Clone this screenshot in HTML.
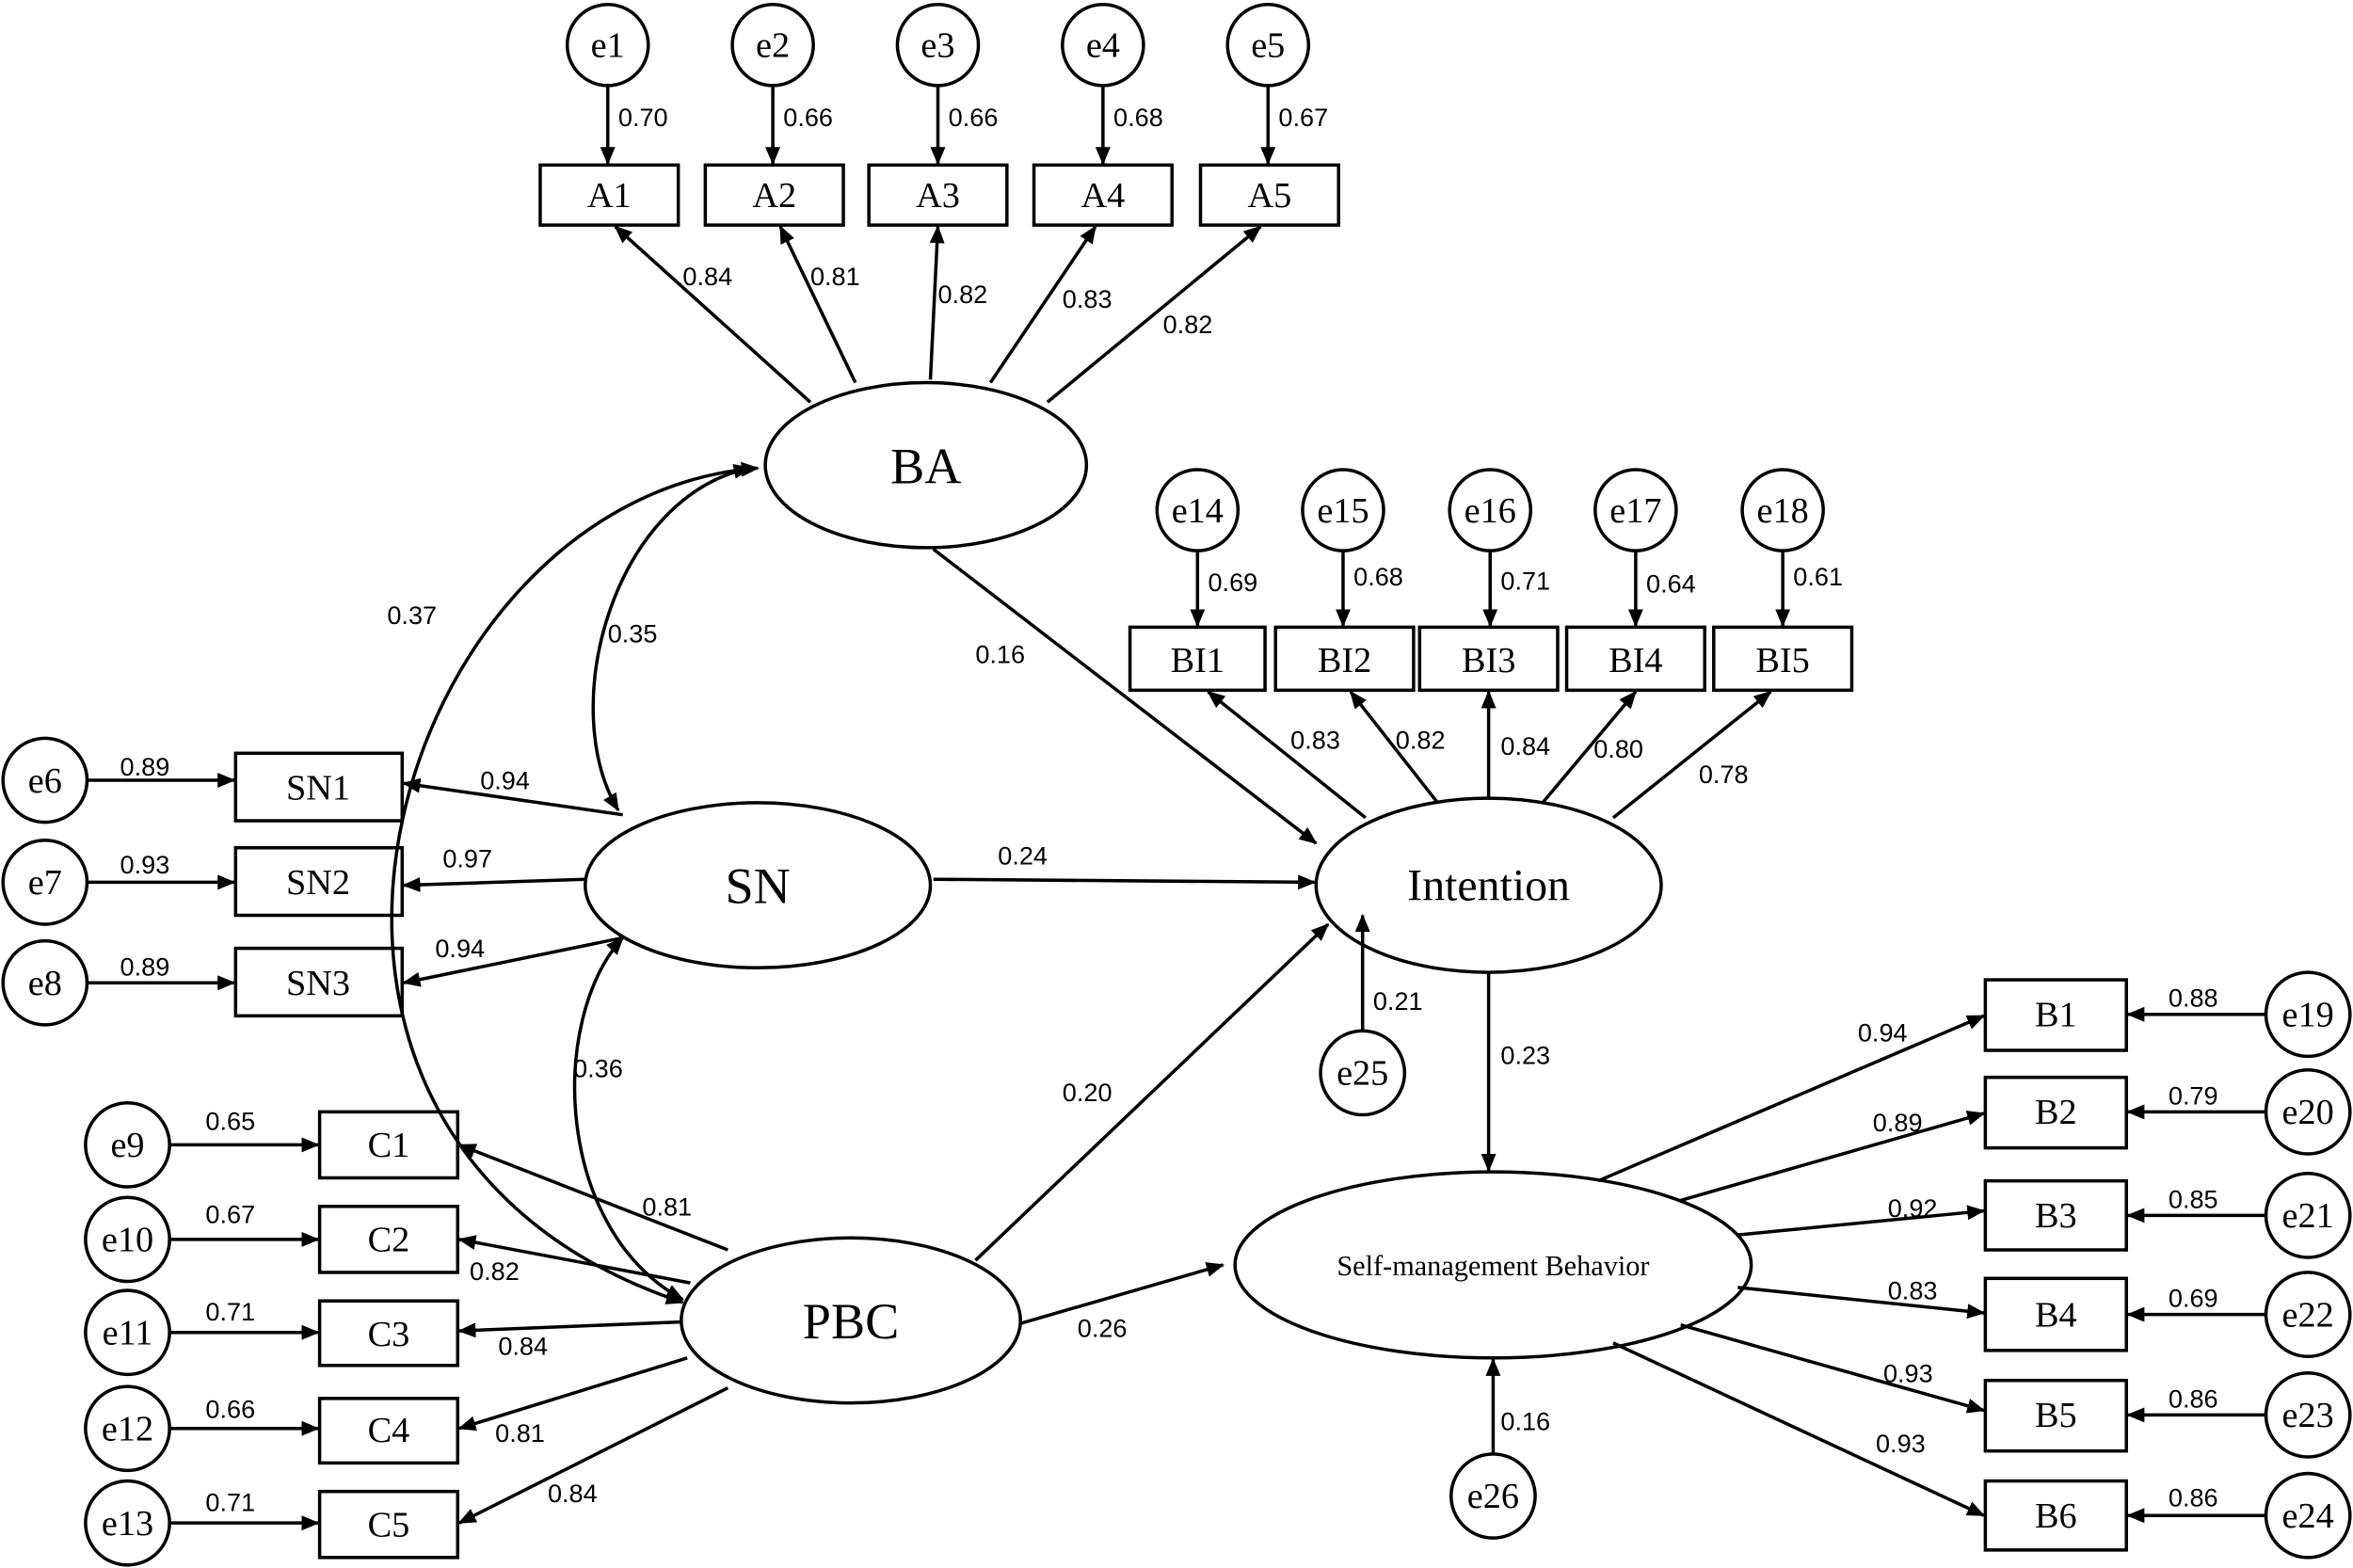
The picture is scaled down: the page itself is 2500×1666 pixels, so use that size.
<!DOCTYPE html>
<html><head><meta charset="utf-8"><style>
html,body{margin:0;padding:0;background:#fff}
svg{display:block}
.n{font-family:"Liberation Serif",serif;fill:#000}
.l{font-family:"Liberation Sans",sans-serif;font-size:17px;fill:#000}
</style></head><body>
<svg width="2500" height="1666" viewBox="0 0 1568 1045" preserveAspectRatio="none" xmlns="http://www.w3.org/2000/svg">
<defs>
<marker id="a" viewBox="0 0 12 10" refX="11" refY="5" markerWidth="12" markerHeight="10" markerUnits="userSpaceOnUse" orient="auto-start-reverse">
<path d="M0,0 L12,5 L0,10 z" fill="#000"/></marker>
</defs>
<g stroke="#000" stroke-width="2.2" fill="none">
<g fill="#fff">
<circle cx="405" cy="30" r="27"/><circle cx="515" cy="30" r="27"/><circle cx="625" cy="30" r="27"/><circle cx="735" cy="30" r="27"/><circle cx="845" cy="30" r="27"/>
<rect x="360" y="110" width="92" height="40"/><rect x="470" y="110" width="92" height="40"/><rect x="579" y="110" width="92" height="40"/><rect x="689" y="110" width="92" height="40"/><rect x="800" y="110" width="92" height="40"/>
<circle cx="798" cy="340" r="27"/><circle cx="895" cy="340" r="27"/><circle cx="993" cy="340" r="27"/><circle cx="1090" cy="340" r="27"/><circle cx="1188" cy="340" r="27"/>
<rect x="753" y="418" width="90" height="42"/><rect x="850" y="418" width="92" height="42"/><rect x="946" y="418" width="92" height="42"/><rect x="1044" y="418" width="92" height="42"/><rect x="1142" y="418" width="92" height="42"/>
<rect x="157" y="502" width="111" height="45"/><rect x="157" y="565" width="111" height="45"/><rect x="157" y="632" width="111" height="45"/>
<circle cx="30" cy="520" r="28"/><circle cx="30" cy="588" r="28"/><circle cx="30" cy="655" r="28"/>
<rect x="213" y="741" width="92" height="44"/><rect x="213" y="804" width="92" height="44"/><rect x="213" y="867" width="92" height="43"/><rect x="213" y="932" width="92" height="43"/><rect x="213" y="994" width="92" height="44"/>
<circle cx="85" cy="763" r="28"/><circle cx="85" cy="826" r="28"/><circle cx="85" cy="888" r="28"/><circle cx="85" cy="952" r="28"/><circle cx="85" cy="1015" r="28"/>
<rect x="1323" y="653" width="94" height="47"/><rect x="1323" y="718" width="94" height="47"/><rect x="1323" y="787" width="94" height="46"/><rect x="1323" y="852" width="94" height="48"/><rect x="1323" y="920" width="94" height="47"/><rect x="1323" y="987" width="94" height="46"/>
<circle cx="1538" cy="676" r="28"/><circle cx="1538" cy="741" r="28"/><circle cx="1538" cy="810" r="28"/><circle cx="1538" cy="876" r="28"/><circle cx="1538" cy="943" r="28"/><circle cx="1538" cy="1010" r="28"/>
<circle cx="908" cy="715" r="28"/><circle cx="995" cy="997" r="28"/>
<ellipse cx="617" cy="310" rx="107" ry="55"/>
<ellipse cx="992" cy="590" rx="115" ry="58"/>
<ellipse cx="505" cy="590" rx="115" ry="55"/>
<ellipse cx="567" cy="880" rx="113" ry="55"/>
<ellipse cx="995" cy="843" rx="172" ry="62"/>
</g>
<path d="M505,312 C260,330 130,760 455,868" marker-start="url(#a)" marker-end="url(#a)"/>
<g marker-end="url(#a)">
<line x1="405" y1="57" x2="405" y2="109"/><line x1="515" y1="57" x2="515" y2="109"/><line x1="625" y1="57" x2="625" y2="109"/><line x1="735" y1="57" x2="735" y2="109"/><line x1="845" y1="57" x2="845" y2="109"/>
<line x1="540" y1="268" x2="410" y2="151"/><line x1="570" y1="255" x2="520" y2="151"/><line x1="620" y1="253" x2="625" y2="151"/><line x1="660" y1="255" x2="730" y2="151"/><line x1="698" y1="268" x2="840" y2="151"/>
<line x1="798" y1="367" x2="798" y2="417"/><line x1="895" y1="367" x2="895" y2="417"/><line x1="993" y1="367" x2="993" y2="417"/><line x1="1090" y1="367" x2="1090" y2="417"/><line x1="1188" y1="367" x2="1188" y2="417"/>
<line x1="910" y1="545" x2="805" y2="461"/><line x1="958" y1="535" x2="900" y2="461"/><line x1="992" y1="532" x2="992" y2="461"/><line x1="1028" y1="535" x2="1090" y2="461"/><line x1="1075" y1="545" x2="1180" y2="461"/>
<line x1="58" y1="520" x2="156" y2="520"/><line x1="58" y1="588" x2="156" y2="588"/><line x1="58" y1="655" x2="156" y2="655"/>
<line x1="415" y1="543" x2="269" y2="522"/><line x1="390" y1="586" x2="269" y2="590"/><line x1="415" y1="625" x2="269" y2="655"/>
<line x1="622" y1="586" x2="876" y2="588"/>
<line x1="622" y1="366" x2="877" y2="562"/>
<line x1="113" y1="763" x2="212" y2="763"/><line x1="113" y1="826" x2="212" y2="826"/><line x1="113" y1="888" x2="212" y2="888"/><line x1="113" y1="952" x2="212" y2="952"/><line x1="113" y1="1015" x2="212" y2="1015"/>
<line x1="485" y1="833" x2="306" y2="763"/><line x1="460" y1="855" x2="306" y2="826"/><line x1="455" y1="881" x2="306" y2="887"/><line x1="458" y1="905" x2="306" y2="952"/><line x1="485" y1="925" x2="306" y2="1015"/>
<line x1="650" y1="840" x2="885" y2="616"/>
<line x1="680" y1="882" x2="815" y2="843"/>
<line x1="992" y1="648" x2="992" y2="780"/>
<line x1="908" y1="687" x2="908" y2="610"/>
<line x1="995" y1="969" x2="995" y2="906"/>
<line x1="1065" y1="787" x2="1322" y2="677"/><line x1="1120" y1="800" x2="1322" y2="742"/><line x1="1158" y1="823" x2="1322" y2="807"/><line x1="1158" y1="858" x2="1322" y2="875"/><line x1="1120" y1="883" x2="1322" y2="940"/><line x1="1075" y1="895" x2="1322" y2="1010"/>
<line x1="1510" y1="676" x2="1418" y2="676"/><line x1="1510" y1="741" x2="1418" y2="741"/><line x1="1510" y1="810" x2="1418" y2="810"/><line x1="1510" y1="876" x2="1418" y2="876"/><line x1="1510" y1="943" x2="1418" y2="943"/><line x1="1510" y1="1010" x2="1418" y2="1010"/>
</g>
<g marker-start="url(#a)" marker-end="url(#a)">
<path d="M500,312 C410,330 370,470 412,540"/>
<path d="M415,625 C365,680 370,820 455,866"/>
</g>
</g>
<g class="n" text-anchor="middle">
<g font-size="24">
<text x="405" y="38">e1</text><text x="515" y="38">e2</text><text x="625" y="38">e3</text><text x="735" y="38">e4</text><text x="845" y="38">e5</text>
<text x="406" y="138">A1</text><text x="516" y="138">A2</text><text x="625" y="138">A3</text><text x="735" y="138">A4</text><text x="846" y="138">A5</text>
<text x="798" y="348">e14</text><text x="895" y="348">e15</text><text x="993" y="348">e16</text><text x="1090" y="348">e17</text><text x="1188" y="348">e18</text>
<text x="798" y="448">BI1</text><text x="896" y="448">BI2</text><text x="992" y="448">BI3</text><text x="1090" y="448">BI4</text><text x="1188" y="448">BI5</text>
<text x="212" y="533">SN1</text><text x="212" y="596">SN2</text><text x="212" y="663">SN3</text>
<text x="30" y="528">e6</text><text x="30" y="596">e7</text><text x="30" y="663">e8</text>
<text x="259" y="771">C1</text><text x="259" y="834">C2</text><text x="259" y="897">C3</text><text x="259" y="961">C4</text><text x="259" y="1024">C5</text>
<text x="85" y="771">e9</text><text x="85" y="834">e10</text><text x="85" y="896">e11</text><text x="85" y="960">e12</text><text x="85" y="1023">e13</text>
<text x="1370" y="684">B1</text><text x="1370" y="749">B2</text><text x="1370" y="818">B3</text><text x="1370" y="884">B4</text><text x="1370" y="951">B5</text><text x="1370" y="1018">B6</text>
<text x="1538" y="684">e19</text><text x="1538" y="749">e20</text><text x="1538" y="818">e21</text><text x="1538" y="884">e22</text><text x="1538" y="951">e23</text><text x="1538" y="1018">e24</text>
<text x="908" y="723">e25</text><text x="995" y="1005">e26</text>
</g>
<text x="617" y="322" font-size="34">BA</text>
<text x="505" y="602" font-size="34">SN</text>
<text x="567" y="892" font-size="34">PBC</text>
<text x="992" y="600" font-size="30">Intention</text>
<text x="995" y="850" font-size="19">Self-management  Behavior</text>
</g>
<g class="l">
<text x="412" y="84">0.70</text><text x="522" y="84">0.66</text><text x="632" y="84">0.66</text><text x="742" y="84">0.68</text><text x="852" y="84">0.67</text>
<text x="455" y="190">0.84</text><text x="540" y="190">0.81</text><text x="625" y="202">0.82</text><text x="708" y="205">0.83</text><text x="775" y="222">0.82</text>
<text x="805" y="394">0.69</text><text x="902" y="390">0.68</text><text x="1000" y="393">0.71</text><text x="1097" y="395">0.64</text><text x="1195" y="390">0.61</text>
<text x="860" y="499">0.83</text><text x="930" y="499">0.82</text><text x="1000" y="503">0.84</text><text x="1062" y="505">0.80</text><text x="1132" y="522">0.78</text>
<text x="80" y="517">0.89</text><text x="80" y="582">0.93</text><text x="80" y="650">0.89</text>
<text x="320" y="526">0.94</text><text x="295" y="578">0.97</text><text x="290" y="638">0.94</text>
<text x="665" y="576">0.24</text><text x="650" y="442">0.16</text>
<text x="258" y="416">0.37</text><text x="405" y="428">0.35</text><text x="382" y="718">0.36</text>
<text x="137" y="753">0.65</text><text x="137" y="815">0.67</text><text x="137" y="880">0.71</text><text x="137" y="945">0.66</text><text x="137" y="1007">0.71</text>
<text x="428" y="810">0.81</text><text x="313" y="853">0.82</text><text x="332" y="903">0.84</text><text x="330" y="961">0.81</text><text x="365" y="1001">0.84</text>
<text x="708" y="734">0.20</text><text x="718" y="891">0.26</text>
<text x="1000" y="709">0.23</text><text x="915" y="673">0.21</text><text x="1000" y="953">0.16</text>
<text x="1238" y="694">0.94</text><text x="1248" y="754">0.89</text><text x="1258" y="811">0.92</text><text x="1258" y="866">0.83</text><text x="1255" y="921">0.93</text><text x="1250" y="968">0.93</text>
<text x="1445" y="671">0.88</text><text x="1445" y="736">0.79</text><text x="1445" y="805">0.85</text><text x="1445" y="871">0.69</text><text x="1445" y="938">0.86</text><text x="1445" y="1004">0.86</text>
</g>
</svg>
</body></html>
